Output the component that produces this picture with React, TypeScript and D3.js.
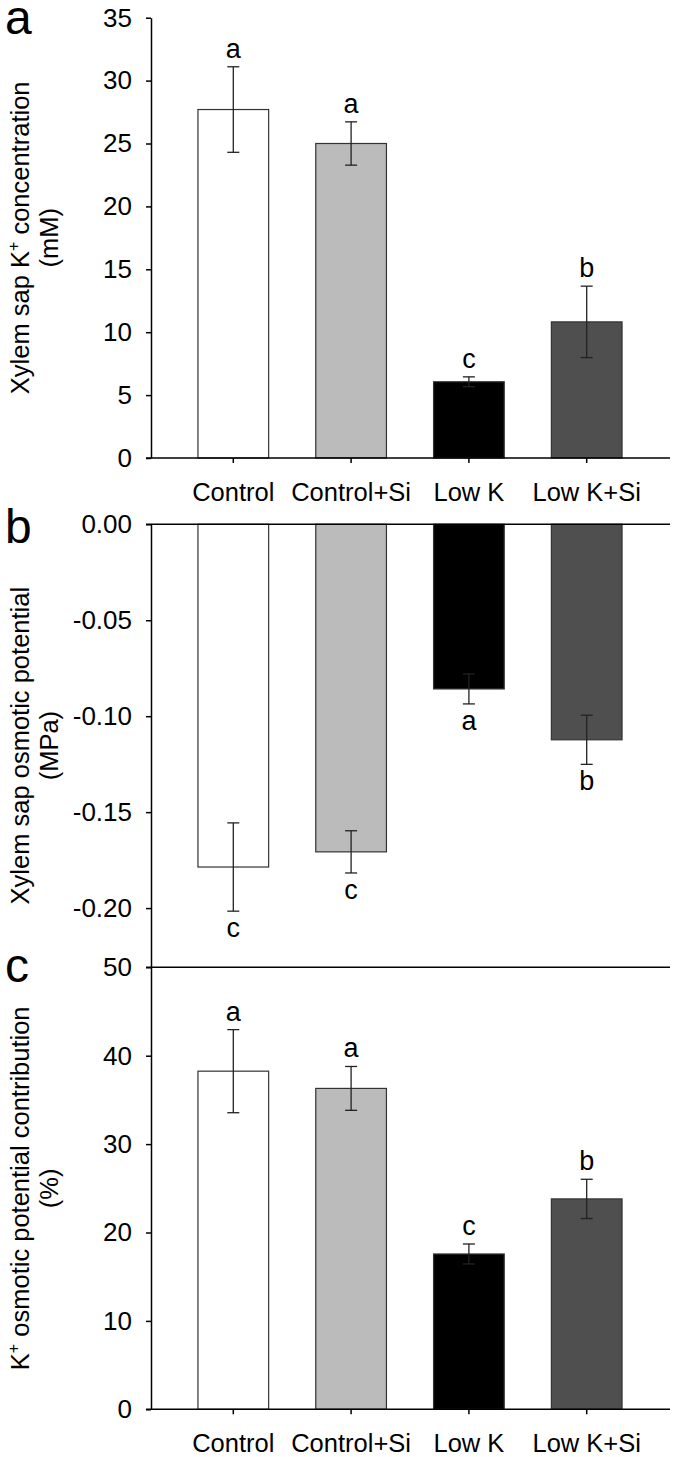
import * as d3 from "d3";
import { useEffect, useRef } from "react";

const W = 675;
const H = 1457;
const FONT = "'Liberation Sans', Arial, Helvetica, sans-serif";

const categories = ["Control", "Control+Si", "Low K", "Low K+Si"];
const barFills = ["#ffffff", "#bbbbbb", "#000000", "#4f4f4f"];

// a: xylem sap K+ concentration (mM)
const kConc = [27.7, 25.0, 6.06, 10.82];
const kConcErr = [3.4, 1.72, 0.39, 2.84];
const kConcLetters = ["a", "a", "c", "b"];
const kConcTicks = [0, 5, 10, 15, 20, 25, 30, 35];

// b: xylem sap osmotic potential (MPa)
const osmPot = [-0.1786, -0.1707, -0.0858, -0.1123];
const osmPotErr = [0.023, 0.011, 0.0078, 0.0128];
const osmPotLetters = ["c", "c", "a", "b"];
const osmPotTicks = [0, -0.05, -0.1, -0.15, -0.2];

// c: K+ osmotic potential contribution (%)
const kContrib = [38.25, 36.3, 17.57, 23.8];
const kContribErr = [4.7, 2.48, 1.13, 2.22];
const kContribLetters = ["a", "a", "c", "b"];
const kContribTicks = [0, 10, 20, 30, 40, 50];

const axisX = 151;
const lineLeft = 146;
const lineRight = 670;

const xScale = d3
  .scaleBand<string>()
  .domain(categories)
  .range([174.4, 645.6])
  .paddingInner(0.4)
  .paddingOuter(0.2);

type PanelProps = {
  yScale: d3.ScaleLinear<number, number>;
  values: number[];
  errors: number[];
  letters: string[];
  ticks: number[];
  fmt: (d: number) => string;
  below?: boolean;
  showCats?: boolean;
  topLine?: boolean;
  label: string;
  labelY: number;
  title1: React.ReactNode;
  title2: string;
};

const Panel = ({
  yScale,
  values,
  errors,
  letters,
  ticks,
  fmt,
  below,
  showCats,
  topLine,
  label,
  labelY,
  title1,
  title2,
}: PanelProps) => {
  const yAxisRef = useRef<SVGGElement>(null);
  const xAxisRef = useRef<SVGGElement>(null);
  const [r0, r1] = yScale.range();
  const base = yScale(0);
  const mid = (r0 + r1) / 2;

  useEffect(() => {
    const g = d3
      .select(yAxisRef.current)
      .call(
        d3
          .axisLeft(yScale)
          .tickValues(ticks)
          .tickFormat((d) => fmt(d as number))
          .tickSize(5)
          .tickSizeOuter(0)
          .tickPadding(14)
      );
    g.selectAll("path, line").attr("stroke", "#000").attr("stroke-width", 1.5);
    g.selectAll("text")
      .attr("font-size", 26)
      .attr("font-family", FONT)
      .attr("fill", "#000");

    if (showCats && xAxisRef.current) {
      const gx = d3
        .select(xAxisRef.current)
        .call(d3.axisBottom(xScale).tickSize(5).tickSizeOuter(0).tickPadding(20));
      gx.select(".domain").remove();
      gx.selectAll("line").attr("stroke", "#000").attr("stroke-width", 1.5);
      gx.selectAll("text")
        .attr("font-size", 25.5)
        .attr("font-family", FONT)
        .attr("fill", "#000");
    }
  }, [yScale, ticks, fmt, showCats]);

  return (
    <g>
      {values.map((v, i) => {
        const x = xScale(categories[i]) as number;
        const bw = xScale.bandwidth();
        const cx = x + bw / 2;
        const yTop = Math.min(yScale(v), base);
        const h = Math.abs(yScale(v) - base);
        const eHi = yScale(v + errors[i]);
        const eLo = yScale(v - errors[i]);
        const ly = below ? eLo + 26 : eHi - 9;
        return (
          <g key={categories[i]}>
            <rect
              x={x}
              y={yTop}
              width={bw}
              height={h}
              fill={barFills[i]}
              stroke="#333"
              strokeWidth={1.2}
            />
            <g stroke="#222" strokeWidth={1.3}>
              <line x1={cx} x2={cx} y1={eHi} y2={eLo} />
              <line x1={cx - 6} x2={cx + 6} y1={eHi} y2={eHi} />
              <line x1={cx - 6} x2={cx + 6} y1={eLo} y2={eLo} />
            </g>
            <text
              x={cx}
              y={ly}
              textAnchor="middle"
              fontSize={27}
              fontFamily={FONT}
            >
              {letters[i]}
            </text>
          </g>
        );
      })}
      <line x1={lineLeft} x2={lineRight} y1={base} y2={base} stroke="#000" strokeWidth={1.5} />
      {topLine && (
        <line
          x1={lineLeft}
          x2={lineRight}
          y1={yScale.range()[1]}
          y2={yScale.range()[1]}
          stroke="#000"
          strokeWidth={1.5}
        />
      )}
      <g ref={yAxisRef} transform={`translate(${axisX},0)`} />
      {showCats && <g ref={xAxisRef} transform={`translate(0,${base})`} />}
      <text x={5} y={labelY} fontSize={48} fontFamily={FONT}>
        {label}
      </text>
      <text
        transform={`translate(29,${mid}) rotate(-90)`}
        textAnchor="middle"
        fontSize={25.5}
        fontFamily={FONT}
      >
        {title1}
      </text>
      <text
        transform={`translate(58,${mid}) rotate(-90)`}
        textAnchor="middle"
        fontSize={25.5}
        fontFamily={FONT}
      >
        {title2}
      </text>
    </g>
  );
};

const yA = d3.scaleLinear().domain([0, 35]).range([458, 17.7]);
const yB = d3.scaleLinear().domain([-0.2307, 0]).range([967, 524.3]);
const yC = d3.scaleLinear().domain([0, 50]).range([1409.3, 967.3]);

const fmtInt = (d: number) => d3.format("d")(d);
const fmt2 = (d: number) => d3.format(".2f")(d).replace("−", "-");

export default function App() {
  return (
    <svg
      width={W}
      height={H}
      style={{ position: "absolute", left: 0, top: 0, background: "#fff" }}
    >
      <rect width={W} height={H} fill="#fff" />
      <Panel
        yScale={yA}
        values={kConc}
        errors={kConcErr}
        letters={kConcLetters}
        ticks={kConcTicks}
        fmt={fmtInt}
        showCats
        label="a"
        labelY={34}
        title1={
          <>
            Xylem sap K<tspan dy={-10} fontSize={16}>+</tspan>
            <tspan dy={10}> concentration</tspan>
          </>
        }
        title2="(mM)"
      />
      <Panel
        yScale={yB}
        values={osmPot}
        errors={osmPotErr}
        letters={osmPotLetters}
        ticks={osmPotTicks}
        fmt={fmt2}
        below
        label="b"
        labelY={543}
        title1="Xylem sap osmotic potential"
        title2="(MPa)"
      />
      <Panel
        yScale={yC}
        values={kContrib}
        errors={kContribErr}
        letters={kContribLetters}
        ticks={kContribTicks}
        fmt={fmtInt}
        showCats
        topLine
        label="c"
        labelY={982}
        title1={
          <>
            K<tspan dy={-10} fontSize={16}>+</tspan>
            <tspan dy={10}> osmotic potential contribution</tspan>
          </>
        }
        title2="(%)"
      />
    </svg>
  );
}
